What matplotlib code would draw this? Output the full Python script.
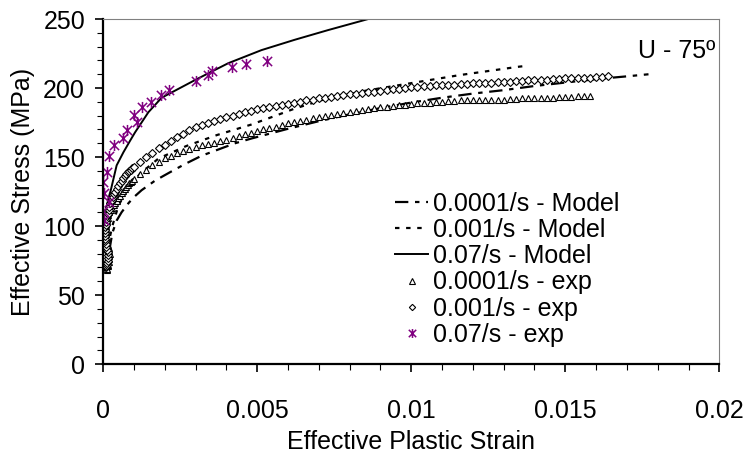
import matplotlib
matplotlib.use("Agg")
import matplotlib.pyplot as plt
from matplotlib.path import Path
from matplotlib.ticker import MultipleLocator

plt.rcParams['font.family'] = ['Liberation Sans', 'DejaVu Sans']

# model curves
m1_x = [0.00020, 0.00030, 0.00044, 0.00060, 0.00082, 0.00100, 0.00125, 0.00169, 0.00217,
        0.00266, 0.0032, 0.00368, 0.00428, 0.00482, 0.0060, 0.0070, 0.0080, 0.0090,
        0.0100, 0.0110, 0.0120, 0.0130, 0.0140, 0.0150, 0.0160, 0.0170, 0.0177]
m1_y = [82, 95, 104, 110, 116.5, 121, 126, 133, 139,
        145, 151, 155, 160, 163.5, 170.5, 176, 181, 185.5,
        189.5, 193, 196, 198.5, 201.5, 204, 206.5, 208.5, 210]

m2_x = [0.00015, 0.0003, 0.0005, 0.0008, 0.0012, 0.0018, 0.0027, 0.0037, 0.0048,
        0.0056, 0.0062, 0.0072, 0.0085, 0.00995, 0.01157, 0.01346, 0.0137]
m2_y = [85, 100, 115, 127, 138, 149, 158, 166, 173.5,
        180, 185, 192, 198, 203.4, 209.4, 215.4, 216]

m3_x = [0.00003, 0.0001, 0.00016, 0.00025, 0.00044, 0.00066, 0.00088, 0.00104, 0.00147,
        0.0019, 0.0030, 0.00406, 0.00514, 0.00622, 0.0073, 0.0086]
m3_y = [100, 110, 119, 126, 144, 153.5, 162, 168, 182.5,
        193, 206, 218, 227.5, 235, 242, 250]

# experiments
e1_x = [0.00010, 0.00012, 0.00013, 0.00015, 0.00016, 0.00018, 0.00019, 0.00020, 0.00021,
        0.00020, 0.00018, 0.00016, 0.00014, 0.00012, 0.00011, 0.00010, 0.00009, 0.00009,
        0.00010, 0.00011, 0.00013, 0.00015, 0.00017, 0.00019, 0.00022, 0.00026, 0.00030,
        0.00035, 0.00040, 0.00045, 0.00050, 0.00055, 0.00060, 0.00065, 0.00070, 0.00075,
        0.00080, 0.00085, 0.00090, 0.00095,
        0.0010, 0.0012, 0.0014, 0.0016, 0.0018, 0.0020, 0.0022, 0.0024, 0.0026, 0.0028,
        0.0030, 0.0032, 0.0034, 0.0036, 0.0038, 0.0040, 0.0042, 0.0044, 0.0046, 0.0048,
        0.0050, 0.0052, 0.0054, 0.0056, 0.0058, 0.0060, 0.0062, 0.0064, 0.0066, 0.0068,
        0.0070, 0.0072, 0.0074, 0.0076, 0.0078, 0.0080, 0.0082, 0.0084, 0.0086, 0.0088,
        0.0090, 0.0092, 0.0094, 0.0096, 0.0098, 0.0100, 0.0102, 0.0104, 0.0106, 0.0108,
        0.0110, 0.0112, 0.0114, 0.0116, 0.0118, 0.0120, 0.0122, 0.0124, 0.0126, 0.0128,
        0.0130, 0.0132, 0.0134, 0.0136, 0.0138, 0.0140, 0.0142, 0.0144, 0.0146, 0.0148,
        0.0150, 0.0152, 0.0154, 0.0156, 0.0158]
e1_y = [70, 68, 69, 71, 72, 74, 76, 78, 80,
        82, 84, 86, 88, 90, 92, 94, 96, 98,
        100, 102, 104, 106, 108, 110, 111.5, 112, 113,
        115, 117, 118.5, 120, 122, 124, 125.5, 127, 128.5,
        130, 131, 132, 133,
        134, 137.5, 141, 144, 146.5, 149, 151, 153, 154.5, 156,
        157, 158.5, 159.5, 160.5, 161.5, 162.5, 164, 165.5, 166.5, 167.5,
        169, 170, 171, 172, 173.5, 174.5, 175.5, 176.5, 177, 178,
        179, 180, 180.5, 181.5, 182, 183, 183.5, 184, 185, 185.5,
        186, 186.5, 187, 187.5, 188, 188.5, 189, 189, 189.5, 190,
        190, 190.5, 190.5, 191, 191, 191, 191.5, 191.5, 191.5, 191.5,
        191.5, 192, 192, 192.5, 192.5, 192.5, 193, 193, 193, 193.5,
        193.5, 193.5, 194, 194, 194]

e2_x = [0.00008, 0.00010, 0.00011, 0.00013, 0.00014, 0.00016, 0.00017, 0.00016, 0.00015,
        0.00013, 0.00011, 0.00009, 0.00007, 0.00006, 0.00005, 0.00005, 0.00006, 0.00007,
        0.00008, 0.00010, 0.00011, 0.00013, 0.00015, 0.00018, 0.00020, 0.00024, 0.00028,
        0.00032, 0.00036, 0.00040, 0.00045, 0.00050, 0.00055, 0.00060, 0.00065, 0.00070,
        0.00075, 0.00080, 0.00085, 0.00090, 0.00095,
        0.0010, 0.0012, 0.0014, 0.0016, 0.0018, 0.0020, 0.0022, 0.0024, 0.0026, 0.0028,
        0.0030, 0.0032, 0.0034, 0.0036, 0.0038, 0.0040, 0.0042, 0.0044, 0.0046, 0.0048,
        0.0050, 0.0052, 0.0054, 0.0056, 0.0058, 0.0060, 0.0062, 0.0064, 0.0066, 0.0068,
        0.0070, 0.0072, 0.0074, 0.0076, 0.0078, 0.0080, 0.0082, 0.0084, 0.0086, 0.0088,
        0.0090, 0.0092, 0.0094, 0.0096, 0.0098, 0.0100, 0.0102, 0.0104, 0.0106, 0.0108,
        0.0110, 0.0112, 0.0114, 0.0116, 0.0118, 0.0120, 0.0122, 0.0124, 0.0126, 0.0128,
        0.0130, 0.0132, 0.0134, 0.0136, 0.0138, 0.0140, 0.0142, 0.0144, 0.0146, 0.0148,
        0.0150, 0.0152, 0.0154, 0.0156, 0.0158, 0.0160, 0.0162, 0.0164]
e2_y = [72, 70, 71, 72, 73, 75, 77, 79, 81,
        83, 85, 87, 89, 91, 93, 95, 97, 99,
        101, 103, 105, 107, 109, 111.5, 114, 116.5, 119,
        121, 123, 125, 127, 129, 131, 133, 135, 136.5,
        138, 139, 140, 141, 142,
        143, 146.5, 150, 153, 156.5, 159, 162, 164.5, 167, 169.5,
        171.5, 173, 174.5, 176, 177.5, 179, 180, 181, 182.5, 183.5,
        184.5, 185.5, 186, 187, 188, 188.5, 189.5, 190, 191, 191.5,
        192.5, 193, 193.5, 194.5, 195, 195.5, 196, 196.5, 197, 197.5,
        198, 198.5, 199, 199.5, 200, 200.5, 201, 201.5, 201.5, 202,
        202, 202.5, 202.5, 203, 203, 203.5, 203.5, 204, 204, 204.5,
        204.5, 204.5, 205, 205, 205.5, 205.5, 206, 206, 206.5, 206.5,
        207, 207, 207, 207.5, 207.5, 208, 208, 208.5]

e3_x = [0.00000, 0.00004, 0.00019, 0.00003, 0.00001, 0.00012, 0.00019, 0.00037, 0.00066,
        0.00077, 0.00100, 0.00111, 0.00127, 0.00155, 0.00187, 0.00214, 0.00300, 0.00341,
        0.00352, 0.00419, 0.00463, 0.00531]
e3_y = [110.9, 104.3, 117.6, 123.7, 131.7, 138.9, 150.9, 158.5, 163.6,
        169.6, 180.4, 175.1, 186.0, 189.6, 194.9, 198.8, 205.3, 209.4,
        212.5, 215.4, 217.4, 219.6]

# x-shaped star with a vertical bar, like the spreadsheet marker
star = Path([(-1, -1), (1, 1), (-1, 1), (1, -1), (0, -1.2), (0, 1.2)],
            [Path.MOVETO, Path.LINETO, Path.MOVETO, Path.LINETO, Path.MOVETO, Path.LINETO])

fs = 18

fig = plt.figure(figsize=(7.47, 4.54), dpi=100)
ax = fig.add_axes([0.138, 0.198, 0.825, 0.760])

ax.plot(m1_x, m1_y, color='black', lw=1.6, ls=(0, (6, 3, 2, 3)), label='0.0001/s - Model')
ax.plot(m2_x, m2_y, color='black', lw=1.6, ls=(0, (2, 3)), label='0.001/s - Model')
ax.plot(m3_x, m3_y, color='black', lw=1.4, label='0.07/s - Model')
ax.plot(e1_x, e1_y, ls='none', marker='^', ms=5, mfc='white', mec='black', mew=0.8,
        label='0.0001/s - exp')
ax.plot(e2_x, e2_y, ls='none', marker='D', ms=4, mfc='white', mec='black', mew=0.8,
        label='0.001/s - exp')
ax.plot(e3_x, e3_y, ls='none', marker=star, ms=8, mfc='none', mec='#800080', mew=1.1,
        label='0.07/s - exp')

ax.set_xlim(0, 0.02)
ax.set_ylim(0, 250)
ax.xaxis.set_minor_locator(MultipleLocator(0.001))
ax.yaxis.set_major_locator(MultipleLocator(50))
ax.yaxis.set_minor_locator(MultipleLocator(10))
ax.set_xticks([0, 0.005, 0.01, 0.015, 0.02])
ax.set_xticklabels(['0', '0.005', '0.01', '0.015', '0.02'])

for s in ['left', 'bottom']:
    ax.spines[s].set_linewidth(1.6)
for s in ['top', 'right']:
    ax.spines[s].set_linewidth(0.8)
    ax.spines[s].set_color('#808080')

ax.tick_params(which='major', direction='out', length=6, width=1.2, labelsize=fs)
ax.tick_params(which='minor', direction='out', length=4.5, width=0.8)
ax.tick_params(axis='x', which='major', pad=19)
ax.tick_params(axis='y', which='major', pad=7)

ax.set_xlabel('Effective Plastic Strain', fontsize=fs, labelpad=5)
ax.set_ylabel('Effective Stress (MPa)', fontsize=fs, labelpad=6)

ax.text(0.0186, 227, 'U - 75º', fontsize=fs, ha='center', va='center')

ax.legend(loc='upper left', bbox_to_anchor=(0.470, 0.507), frameon=False, fontsize=fs,
          handlelength=1.32, handletextpad=0.2, labelspacing=0.09, borderpad=0.1,
          borderaxespad=0, markerscale=0.8)

fig.savefig('out.png', dpi=100)
